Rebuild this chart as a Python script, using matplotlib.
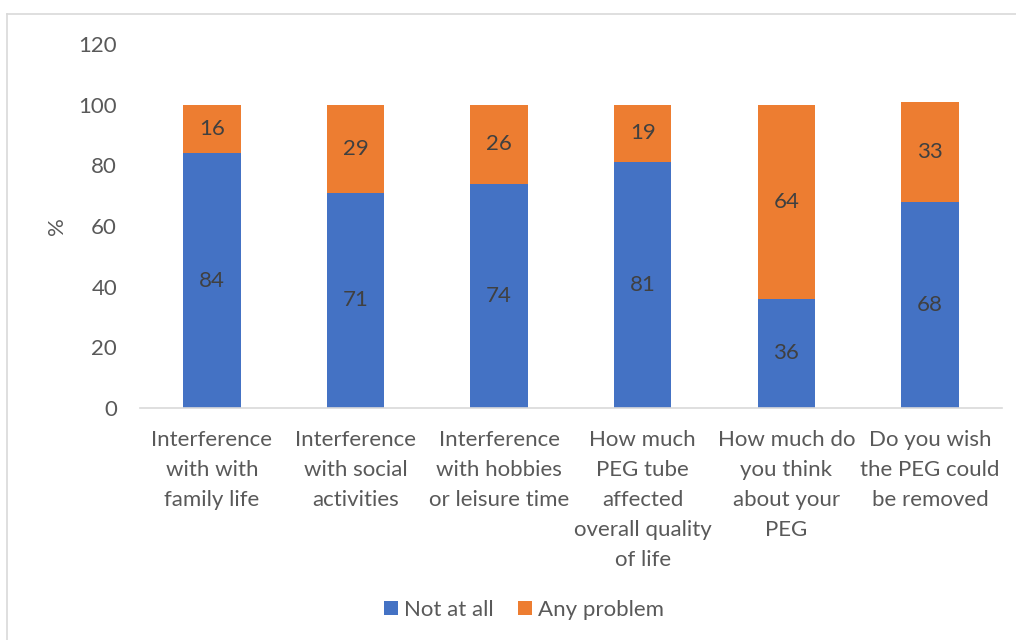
import matplotlib
matplotlib.use("Agg")
import matplotlib.pyplot as plt
from matplotlib.lines import Line2D

categories = [
    "Interference\nwith with\nfamily life",
    "Interference\nwith social\nactivities",
    "Interference\nwith hobbies\nor leisure time",
    "How much\nPEG tube\naffected\noverall quality\nof life",
    "How much do\nyou think\nabout your\nPEG",
    "Do you wish\nthe PEG could\nbe removed",
]
not_at_all = [84, 71, 74, 81, 36, 68]
any_problem = [16, 29, 26, 19, 64, 33]
yticks = [0, 20, 40, 60, 80, 100, 120]

BLUE = "#4472C4"
ORANGE = "#ED7D31"
TXT = "#595959"
LBL = "#404040"
FS = 16

plt.rcParams["font.family"] = ["Lato", "DejaVu Sans"]

fig = plt.figure(figsize=(10.16, 6.4), dpi=100)
ax = fig.add_axes([0.1378, 0.3625, 0.8482, 0.5688])

x = list(range(len(categories)))
w = 0.4
b1 = ax.bar(x, not_at_all, width=w, color=BLUE, label="Not at all")
b2 = ax.bar(x, any_problem, width=w, bottom=not_at_all, color=ORANGE, label="Any problem")

for i in x:
    ax.text(i, not_at_all[i] / 2, str(not_at_all[i]), ha="center", va="center",
            fontsize=FS, color=LBL)
    ax.text(i, not_at_all[i] + any_problem[i] / 2, str(any_problem[i]), ha="center",
            va="center", fontsize=FS, color=LBL)

ax.set_xlim(-0.5, len(categories) - 0.5)
ax.set_ylim(0, 120)
ax.set_yticks(yticks)
ax.set_yticklabels([str(t) for t in yticks], fontsize=FS, color=TXT)
ax.set_xticks(x)
ax.set_xticklabels(categories, fontsize=FS, color=TXT, linespacing=1.62, va="top")
ax.tick_params(axis="both", length=0)
ax.tick_params(axis="y", pad=16.5)
ax.tick_params(axis="x", pad=16)
for s in ["top", "right", "left"]:
    ax.spines[s].set_visible(False)
ax.spines["bottom"].set_color("#D9D9D9")
ax.spines["bottom"].set_linewidth(1.2)

fig.text(57 / 1016, 1 - 226 / 640, "%", rotation=90, ha="center", va="center",
         fontsize=FS, color=TXT)

leg = fig.legend(handles=[b1, b2], labels=["Not at all", "Any problem"],
                 loc="center", bbox_to_anchor=(0.516, 1 - 610 / 640), ncol=2,
                 frameon=False, fontsize=FS, handlelength=0.6, handleheight=0.6,
                 columnspacing=1.1, handletextpad=0.3)
for t in leg.get_texts():
    t.set_color(TXT)

# figure border (left & top visible)
fig.add_artist(Line2D([7 / 1016, 7 / 1016], [0, 1 - 14 / 640], transform=fig.transFigure,
                      color="#D9D9D9", lw=1.2))
fig.add_artist(Line2D([7 / 1016, 1], [1 - 14 / 640, 1 - 14 / 640], transform=fig.transFigure,
                      color="#D9D9D9", lw=1.2))

fig.savefig("out.png", dpi=100)
